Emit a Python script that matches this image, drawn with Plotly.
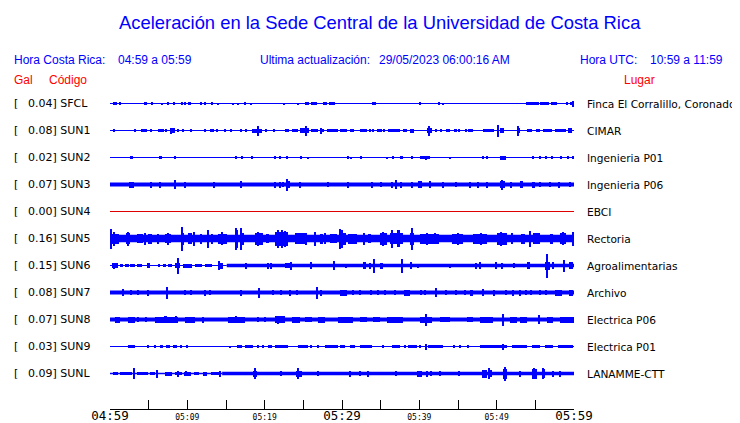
import plotly.graph_objects as go

# ---------------- data ----------------
codes = ["SFCL", "SUN1", "SUN2", "SUN3", "SUN4", "SUN5", "SUN6", "SUN7", "SUN8", "SUN9", "SUNL"]
places = ["Finca El Corralillo, Coronado", "CIMAR", "Ingenieria P01", "Ingenieria P06", "EBCI",
          "Rectoria", "Agroalimentarias", "Archivo", "Electrica P06", "Electrica P01", "LANAMME-CTT"]
gal = [0.04, 0.08, 0.02, 0.07, 0.00, 0.16, 0.15, 0.08, 0.07, 0.03, 0.09]

tick_minutes = [0, 5, 10, 15, 20, 25, 30, 35, 40, 45, 50, 55, 60]
tick_labels = ["04:59", "", "05:09", "", "05:19", "", "05:29", "", "05:39", "", "05:49", "", "05:59"]
big_labels = ["04:59", "05:29", "05:59"]

# background level of each trace: (start min, end min, half amplitude)
base_SFCL = [(0, 60, 0.5)]
base_SUN1 = [(0, 60, 0.6)]
base_SUN2 = [(0, 60, 0.5)]
base_SUN3 = [(0, 60, 2.0)]
base_SUN4 = [(0, 60, 0.5)]
base_SUN5 = [(0, 60, 3.8)]
base_SUN6 = [(0, 15.1, 0.6), (15.1, 60, 1.7)]
base_SUN7 = [(0, 60, 2.0)]
base_SUN8 = [(0, 60, 2.0)]
base_SUN9 = [(0, 60, 0.5)]
base_SUNL = [(0, 14.5, 0.7), (14.5, 60, 1.8)]

# bursts read from the record: (start min, end min, half amplitude)
bursts_SFCL = [(0.4, 0.95, 1.5), (1.29, 1.29, 1.5), (4.53, 4.53, 1.3), (4.74, 4.74, 1.3), (5.52, 5.52, 1.3),
               (6.81, 6.81, 1), (7.54, 7.54, 1.3), (8.28, 8.28, 1.3), (9.4, 9.4, 1.3), (9.7, 9.7, 1.3),
               (10.13, 10.48, 1.5), (11.85, 11.85, 1.2), (12.28, 12.28, 1.3), (13.15, 13.36, 1.5),
               (14.0, 14.0, 1), (15.95, 15.95, 1), (16.6, 16.6, 1), (17.46, 17.46, 1.3), (18.3, 18.3, 1),
               (22.5, 22.5, 1), (24.4, 24.4, 1), (25.2, 25.7, 1.5), (25.95, 26.8, 1.5), (27.6, 28.0, 1.5),
               (28.3, 29.1, 1.5), (33.84, 34.4, 1.5), (40.09, 40.09, 1.3), (42.59, 42.59, 1.2),
               (43.1, 43.1, 1), (53.8, 55.5, 1.5), (55.6, 56.8, 1.3), (57.0, 57.8, 1.5), (59.1, 59.1, 1.2),
               (59.5, 59.9, 1.5), (59.95, 59.95, 3)]
bursts_SUN1 = [(0.43, 0.65, 1.5), (3.32, 3.32, 1.3), (4.18, 4.18, 1.3), (4.44, 4.44, 1.3), (4.74, 4.74, 1.3),
               (5.38, 5.38, 1.3), (6.25, 6.98, 1.7), (7.24, 7.24, 1.3), (7.76, 8.4, 2.2), (7.9, 7.9, 3),
               (8.83, 8.83, 1.3), (9.48, 9.48, 1.3), (10.56, 10.56, 1.3), (12.28, 12.28, 1.3),
               (13.06, 13.06, 1.3), (13.36, 13.36, 1.3), (13.92, 13.92, 1.3), (14.95, 14.95, 1.3),
               (15.73, 15.73, 1.3), (17.02, 17.02, 1.3), (17.67, 17.67, 1.3), (18.32, 19.6, 2),
               (19.18, 19.18, 5), (20.25, 20.25, 1.3), (21.2, 21.2, 1.5), (22.84, 22.84, 1.3),
               (23.06, 23.06, 1.3), (23.57, 24.35, 1.3), (24.57, 25.73, 2.2), (25.38, 25.38, 5),
               (25.95, 26.94, 1.8), (27.28, 27.28, 3), (27.58, 27.58, 1.5), (28.0, 29.5, 1.5),
               (29.74, 30.6, 1.5), (31.16, 31.16, 1.3), (31.46, 31.46, 1.3), (32.33, 33.19, 1.5),
               (33.62, 33.62, 1.3), (34.05, 34.05, 1.3), (34.48, 35.13, 1.5), (35.34, 35.56, 1.5),
               (35.99, 37.5, 1.8), (37.93, 38.36, 1.5), (38.79, 39.31, 2), (41.03, 41.6, 2.5),
               (41.29, 41.29, 5), (42.24, 42.24, 1.3), (42.89, 42.89, 1.3), (43.45, 43.96, 1.5),
               (44.61, 44.83, 1.3), (45.04, 45.26, 1.3), (46.12, 46.12, 1.3), (46.33, 46.9, 1.5),
               (48.19, 49.65, 1.5), (50.21, 50.21, 6), (50.43, 50.95, 2.5), (52.58, 53.02, 2.5),
               (52.8, 52.8, 5), (53.88, 54.52, 1.5), (55.08, 55.6, 1.5), (56.03, 57.11, 1.5),
               (57.54, 58.96, 1.5), (59.27, 59.7, 2.5)]
bursts_SUN2 = [(2.58, 2.97, 1.5), (6.33, 6.68, 1.5), (8.4, 8.57, 1.5), (16.38, 16.38, 1.2), (16.94, 17.15, 1.5),
               (18.19, 18.45, 1.5), (21.42, 21.42, 1.2), (22.07, 22.07, 1.2), (22.84, 23.06, 1.5),
               (24.57, 24.78, 1.5), (25.64, 25.64, 1), (30.82, 30.82, 1.2), (31.25, 31.25, 1),
               (32.54, 32.54, 1.2), (35.9, 35.9, 1), (36.55, 36.72, 1.3), (37.5, 37.84, 1.5),
               (39.01, 39.22, 1.3), (40.09, 41.38, 1.5), (40.86, 40.86, 2), (43.96, 43.96, 1),
               (48.27, 48.27, 1.2), (48.79, 48.79, 1.2), (50.43, 51.16, 2), (54.52, 54.83, 1.5),
               (55.52, 55.73, 1.3), (56.38, 56.38, 1.2), (57.15, 57.15, 1.2), (58.4, 58.4, 1.2),
               (59.27, 59.27, 1.2), (59.9, 59.9, 1.2)]
bursts_SUN3 = [(2.58, 2.8, 3), (3.01, 3.01, 3), (5.39, 5.39, 3), (6.46, 6.46, 3), (8.49, 8.49, 4.5),
               (9.7, 9.7, 3), (13.49, 13.49, 3), (17.02, 17.02, 3.5), (21.33, 21.33, 3), (22.07, 22.07, 3),
               (22.41, 22.41, 2.5), (22.8, 23.27, 3.5), (22.97, 22.97, 6), (24.65, 24.65, 3),
               (28.23, 28.23, 2.5), (30.82, 30.82, 3), (33.84, 34.05, 3), (35.13, 35.13, 2.5),
               (36.42, 36.64, 3), (36.98, 37.15, 3.5), (37.06, 37.06, 4.5), (37.71, 37.71, 3),
               (39.0, 39.2, 3), (39.87, 40.3, 3.5), (41.38, 41.38, 3.5), (43.1, 43.1, 3), (44.83, 44.83, 2.5),
               (46.55, 46.55, 3), (47.63, 47.63, 3), (48.7, 48.92, 3), (50.43, 51.08, 3.5),
               (50.73, 50.73, 5), (51.94, 51.94, 3), (53.02, 53.36, 3.5), (54.52, 54.96, 3),
               (55.6, 55.6, 2.5), (56.9, 56.9, 2.5), (57.97, 58.19, 3), (59.48, 59.48, 2.5)]
bursts_SUN4 = []
bursts_SUN5 = [(0.0, 1.2, 5), (0.21, 0.21, 10), (0.6, 0.6, 7), (2.1, 2.6, 5.5), (2.3, 2.3, 7), (3.5, 4.3, 4.5),
               (4.53, 4.53, 6), (4.9, 5.4, 5), (6.25, 6.25, 5), (7.1, 7.9, 4.5), (7.5, 7.5, 6),
               (9.2, 9.6, 6), (9.4, 9.4, 12), (10.1, 10.6, 5.5), (10.9, 10.9, 7), (11.6, 11.9, 5),
               (12.71, 12.71, 9), (13.0, 13.3, 5), (14.0, 15.1, 5), (14.5, 14.5, 6.5), (16.16, 16.6, 9),
               (16.3, 16.3, 11), (17.02, 17.02, 11), (16.8, 17.3, 6), (18.75, 19.83, 6), (19.18, 19.18, 7),
               (20.2, 20.6, 4.5), (21.33, 23.06, 7), (21.8, 21.8, 9), (22.3, 22.3, 9), (22.7, 22.7, 8),
               (23.9, 25.2, 5.5), (25.4, 25.4, 6), (26.5, 26.5, 7), (27.2, 27.6, 5), (27.8, 27.8, 5.5),
               (28.5, 29.3, 4.5), (29.6, 30.5, 6), (29.74, 29.74, 10), (30.04, 30.04, 9), (30.8, 31.9, 5),
               (32.84, 32.84, 6), (33.3, 33.8, 4.5), (34.9, 35.8, 6), (35.3, 35.3, 7), (36.2, 37.9, 5.5),
               (36.5, 36.5, 9), (37.07, 37.5, 8.5), (38.79, 39.31, 6), (39.14, 39.14, 11), (40.1, 42.6, 5),
               (41.0, 41.0, 6), (42.1, 42.1, 5.5), (44.2, 45.7, 5), (45.0, 45.0, 6), (47.0, 48.7, 5),
               (48.0, 48.0, 6), (50.0, 51.3, 6), (50.6, 50.6, 7), (52.0, 52.0, 5.5), (53.2, 53.6, 5),
               (54.31, 54.31, 8), (54.7, 55.6, 5.5), (56.9, 57.3, 5), (58.2, 59.0, 5.5), (58.6, 58.6, 6.5),
               (59.7, 60.0, 7)]
bursts_SUN6 = [(0.21, 1.07, 2.5), (0.6, 0.6, 3), (1.29, 1.7, 1.7), (1.9, 2.4, 1.7), (2.6, 3.23, 1.7),
               (3.44, 4.1, 1.7), (4.74, 5.17, 2.2), (6.25, 6.46, 1.5), (6.9, 7.3, 1.5), (7.5, 7.97, 1.5),
               (8.4, 9.05, 2.5), (8.83, 8.83, 8), (9.48, 10.56, 2), (10.99, 11.85, 1.8), (12.28, 13.14, 1.8),
               (14.0, 14.65, 3), (14.13, 14.13, 4.5), (17.67, 17.67, 3), (20.47, 20.47, 3), (20.9, 20.9, 3),
               (22.63, 23.27, 2.5), (23.49, 23.49, 4), (26.07, 26.07, 3.5), (29.0, 29.0, 4.5),
               (30.6, 30.6, 2), (32.76, 33.1, 3.5), (33.62, 33.62, 3), (34.18, 34.18, 7), (34.91, 35.34, 3),
               (37.8, 37.8, 7), (39.0, 39.0, 3.5), (39.87, 39.87, 2), (43.96, 43.96, 2), (47.41, 47.41, 3),
               (47.93, 47.93, 3.5), (50.0, 50.0, 3.5), (50.78, 50.78, 3), (52.24, 52.24, 2.5),
               (53.88, 54.31, 3.5), (56.3, 56.9, 4), (56.55, 56.55, 12), (57.33, 57.33, 3.5),
               (58.62, 58.84, 4.5), (58.8, 58.8, 6), (59.4, 59.9, 3.5)]
bursts_SUN7 = [(1.72, 1.72, 3.5), (2.71, 2.71, 2.5), (3.66, 3.66, 2.5), (4.95, 4.95, 3), (7.45, 7.45, 6),
               (9.7, 9.7, 2.5), (10.56, 10.56, 2.5), (12.28, 12.28, 3), (12.93, 12.93, 2.5), (17.02, 17.02, 3),
               (19.26, 19.26, 5), (21.12, 21.12, 2.5), (22.2, 22.2, 2.5), (23.27, 23.27, 3), (24.26, 24.26, 2.5),
               (26.85, 26.85, 6), (27.37, 27.37, 3), (29.74, 30.6, 3), (31.46, 31.46, 2.5), (32.41, 32.41, 2.5),
               (33.83, 33.83, 2.5), (34.7, 34.7, 2.5), (35.56, 35.56, 2.5), (36.85, 36.85, 2.5),
               (38.06, 38.79, 3), (40.3, 40.3, 2.5), (40.73, 40.73, 2.5), (42.15, 42.15, 4.5),
               (43.53, 43.53, 2.5), (44.83, 44.83, 2.5), (45.9, 45.9, 2.5), (46.55, 46.98, 3),
               (48.27, 48.27, 3.5), (49.65, 49.65, 3), (51.29, 51.29, 2.5), (52.15, 52.15, 3),
               (53.02, 53.02, 3), (53.88, 53.88, 2.5), (54.52, 54.52, 2.5), (55.6, 55.6, 2.5),
               (56.47, 56.47, 2.5), (57.5, 58.4, 3), (59.3, 59.9, 3)]
bursts_SUN8 = [(0.64, 1.29, 3), (2.37, 3.23, 3), (3.66, 3.66, 2.5), (4.74, 4.74, 2.5), (5.8, 8.83, 3),
               (7.1, 7.1, 3.5), (7.3, 7.3, 3.5), (8.6, 8.6, 3.5), (9.7, 11.0, 3), (12.07, 12.07, 3),
               (15.3, 17.45, 3), (16.38, 16.38, 3.5), (19.18, 19.18, 2.5), (20.04, 20.04, 2.5),
               (21.33, 22.63, 3.5), (21.76, 21.76, 4), (23.49, 24.57, 3), (25.2, 26.1, 2.5), (26.9, 27.8, 3),
               (29.5, 31.46, 3), (32.33, 33.19, 2.5), (34.05, 34.91, 2.5), (35.77, 37.93, 3),
               (40.09, 41.6, 3), (40.95, 40.95, 6), (42.67, 43.96, 2.5), (46.12, 46.98, 2.5),
               (47.84, 49.57, 3), (50.86, 50.86, 6), (51.7, 52.6, 3), (53.02, 53.88, 3), (55.52, 55.52, 4.5),
               (56.47, 57.33, 3), (58.2, 60.0, 3)]
bursts_SUN9 = [(2.37, 3.23, 1.5), (4.95, 4.95, 1.5), (5.82, 5.82, 1.5), (6.46, 6.89, 1.5), (7.3, 7.76, 1.5),
               (8.19, 8.62, 1.5), (9.27, 9.27, 1.3), (10.04, 10.04, 1.3), (15.51, 15.51, 1), (16.38, 17.02, 1.5),
               (17.45, 18.53, 1.7), (19.18, 19.18, 1.3), (19.83, 19.83, 1.3), (20.47, 20.9, 1.5),
               (21.33, 23.06, 1.7), (24.35, 25.64, 1.7), (26.07, 26.07, 1.3), (26.94, 26.94, 1.3),
               (27.8, 29.5, 1.5), (29.74, 30.39, 1.7), (31.03, 31.68, 1.5), (32.33, 33.84, 1.7),
               (35.34, 35.34, 1.3), (36.42, 37.5, 1.7), (38.15, 38.15, 1.3), (38.58, 39.65, 1.7),
               (40.09, 40.09, 1.3), (40.86, 40.86, 3), (41.16, 43.1, 1.7), (44.4, 44.6, 1.3),
               (45.26, 45.26, 1.3), (46.33, 46.33, 1.3), (47.84, 51.29, 1.7), (50.86, 50.86, 3),
               (51.94, 53.88, 1.7), (54.52, 55.6, 1.5), (56.25, 57.33, 1.5), (57.97, 59.9, 1.7)]
bursts_SUNL = [(0.43, 1.07, 1.8), (1.3, 2.9, 1.5), (3.14, 3.14, 5.5), (3.44, 4.95, 1.8), (5.2, 5.8, 1.5),
               (6.12, 6.12, 4), (7.11, 7.97, 2), (8.4, 9.3, 1.8), (8.83, 8.83, 3), (9.6, 10.5, 2),
               (9.91, 9.91, 2.5), (10.8, 11.5, 1.5), (12.0, 12.5, 2), (13.0, 14.2, 1.8), (14.22, 14.22, 3),
               (18.5, 19.0, 3), (18.75, 18.75, 5.5), (22.2, 22.2, 2.5), (24.1, 24.8, 3), (24.35, 24.35, 5.5),
               (26.94, 26.94, 2.5), (31.03, 31.03, 3), (32.33, 32.33, 2.5), (33.4, 33.4, 3), (37.07, 37.07, 2.5),
               (39.65, 40.3, 3), (41.03, 41.03, 3), (41.6, 41.6, 2.5), (42.67, 42.67, 2.5), (45.17, 45.17, 2.5),
               (48.06, 48.7, 4), (49.0, 49.0, 5.5), (49.35, 49.35, 3.5), (50.86, 51.29, 5), (51.16, 51.16, 7),
               (53.02, 53.02, 3), (54.52, 55.17, 5), (54.9, 54.9, 5.5), (55.82, 56.25, 4.5), (56.04, 56.04, 5.5),
               (57.33, 57.33, 3), (58.19, 58.19, 3)]

bases = [base_SFCL, base_SUN1, base_SUN2, base_SUN3, base_SUN4, base_SUN5,
         base_SUN6, base_SUN7, base_SUN8, base_SUN9, base_SUNL]
bursts = [bursts_SFCL, bursts_SUN1, bursts_SUN2, bursts_SUN3, bursts_SUN4, bursts_SUN5,
          bursts_SUN6, bursts_SUN7, bursts_SUN8, bursts_SUN9, bursts_SUNL]

# ---------------- layout constants (window pixels; page has an 8px body margin) ----------------
OFF = 8
W, H = 740 - OFF, 423 - OFF
PL, PR, PT, PB = 110, 574, 90, 409       # plot area in window pixels
ROW0, ROWH = 103.5, 27                   # first row centre, row pitch (px)
BLUE = "#0000ff"
RED = "#ff0000"

def py2row(p):
    return (p - ROW0) / ROWH

def pxx(p):
    return (p - PL) / (PR - PL)

def pxy(p):
    return (PB - p) / (PB - PT)

fig = go.Figure()

for i, code in enumerate(codes):
    color = "#e00000" if code == "SUN4" else BLUE
    for (t0, t1, a) in bases[i]:
        fig.add_trace(go.Scatter(x=[t0, t1], y=[i, i], mode="lines",
                                 line=dict(color=color, width=max(1, 2 * a)),
                                 hoverinfo="skip", showlegend=False))
    if bursts[i]:
        xs, ws, bs, hs = [], [], [], []
        for (t0, t1, a) in bursts[i]:
            xs.append((t0 + t1) / 2)
            ws.append(max(t1 - t0, 0.2))
            bs.append(i - a / ROWH)
            hs.append(2 * a / ROWH)
        fig.add_trace(go.Bar(x=xs, y=hs, base=bs, width=ws, marker=dict(color=color, line=dict(width=0)),
                             hoverinfo="skip", showlegend=False))

annotations = []
def txt(text, x, y, size, color="black", family="DejaVu Sans", anchor="left", yref="paper"):
    annotations.append(dict(text=text, x=pxx(x), y=y, xref="paper", yref=yref, showarrow=False,
                            xanchor=anchor, yanchor="middle", borderpad=0,
                            font=dict(family=family, size=size, color=color)))

HF = "Liberation Sans, Arial, sans-serif"
txt("Aceleración en la Sede Central de la Universidad de Costa Rica", 380, pxy(22), 18.4, BLUE, HF, "center")
txt("Hora Costa Rica:", 13, pxy(60), 12, BLUE, HF)
txt("04:59 a 05:59", 117, pxy(60), 12, BLUE, HF)
txt("Ultima actualización:", 259, pxy(60), 12, BLUE, HF)
txt("29/05/2023 06:00:16 AM", 378, pxy(60), 12, BLUE, HF)
txt("Hora UTC:", 579, pxy(60), 12, BLUE, HF)
txt("10:59 a 11:59", 649, pxy(60), 12, BLUE, HF)
txt("Gal", 13, pxy(80), 12, RED, HF)
txt("Código", 48, pxy(80), 12, RED, HF)
txt("Lugar", 623, pxy(80), 12, RED, HF)

for i, code in enumerate(codes):
    txt("[", 13, i, 11, yref="y")
    txt(f"{gal[i]:.2f}] {code}", 26.5, i, 11, yref="y")
    txt(places[i], 586, i, 10.6, yref="y")

ticktext = [f'<span style="font-size:12.5px">{t}</span>' if t in big_labels else t for t in tick_labels]

fig.update_layout(
    width=W, height=H,
    margin=dict(l=PL - OFF, r=(W + OFF) - PR, t=PT - OFF, b=(H + OFF) - PB, pad=0),
    paper_bgcolor="white", plot_bgcolor="white",
    barmode="overlay", bargap=0,
    showlegend=False,
    annotations=annotations,
    xaxis=dict(range=[0, 60], tickmode="array", tickvals=tick_minutes, ticktext=ticktext,
               ticks="inside", ticklen=9, tickcolor="black", tickwidth=1,
               showline=True, linecolor="black", linewidth=1, showgrid=False, zeroline=False,
               tickfont=dict(family="DejaVu Sans Mono", size=8, color="black"),
               automargin=False, fixedrange=True),
    yaxis=dict(range=[py2row(PB), py2row(PT)], visible=False, showgrid=False, zeroline=False,
               automargin=False, fixedrange=True),
    hovermode=False,
)

fig.write_html("out.html", config={"displayModeBar": False})
